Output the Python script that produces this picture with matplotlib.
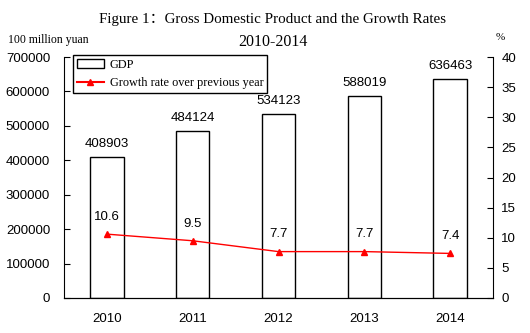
import matplotlib.pyplot as plt
from matplotlib.lines import Line2D
from matplotlib.patches import Patch

anos = ["2010", "2011", "2012", "2013", "2014"]
pib = [408903, 484124, 534123, 588019, 636463]
crescimento = [10.6, 9.5, 7.7, 7.7, 7.4]

plt.rcParams['font.family'] = ['Liberation Sans', 'DejaVu Sans']

fig = plt.figure(figsize=(5.3, 3.33), dpi=100)
ax = fig.add_axes([64 / 530, 1 - 298 / 333, (493 - 64) / 530, (298 - 57) / 333])
x = list(range(len(anos)))

# barras do PIB
ax.bar(x, pib, width=0.39, facecolor='white', edgecolor='black', linewidth=1.0)
for xi, v in zip(x, pib):
    ax.annotate(str(v), (xi, v), xytext=(0, 5), textcoords='offset points',
                ha='center', va='bottom', fontsize=9.5)

ax.set_xlim(-0.5, 4.5)
ax.set_ylim(0, 700000)
ax.set_yticks(range(0, 700001, 100000))
ax.set_xticks(x)
ax.set_xticklabels(anos)
ax.tick_params(axis='y', direction='in', length=4, labelsize=9.5, pad=10)
ax.tick_params(axis='x', length=0, labelsize=9.5, pad=11)
ax.spines['top'].set_visible(False)
ax.spines['right'].set_visible(False)

# linha da taxa de crescimento
ax2 = ax.twinx()
ax2.plot(x, crescimento, color='red', marker='^', markersize=5, linewidth=1.0)
for xi, v in zip(x, crescimento):
    ax2.annotate(f"{v}", (xi, v), xytext=(0, 8), textcoords='offset points',
                 ha='center', va='bottom', fontsize=9.5)
ax2.set_ylim(0, 40)
ax2.set_yticks(range(0, 41, 5))
ax2.tick_params(axis='y', direction='in', length=4, labelsize=9.5, pad=6)
ax2.spines['top'].set_visible(False)
ax2.spines['left'].set_visible(False)

handles = [Patch(facecolor='white', edgecolor='black', label='GDP'),
           Line2D([], [], color='red', marker='^', markersize=5, label='Growth rate over previous year')]
leg = ax.legend(handles=handles, loc='upper left', bbox_to_anchor=(0.021, 1.008),
                borderaxespad=0, prop={'family': 'Liberation Serif', 'size': 8.8},
                fancybox=False, edgecolor='black', framealpha=1, borderpad=0.3,
                labelspacing=0.55, handlelength=2.2, handletextpad=0.5)
leg.get_frame().set_linewidth(1.0)

fig.text(0.515, 1 - 20 / 333, "Figure 1：Gross Domestic Product and the Growth Rates",
         ha='center', va='center', fontsize=10.8, family=['Liberation Serif', 'Noto Sans CJK SC'])
fig.text(0.515, 1 - 42 / 333, "2010-2014", ha='center', va='center', fontsize=11.5,
         family='Liberation Serif')
fig.text(8 / 530, 1 - 40 / 333, "100 million yuan", ha='left', va='center', fontsize=8.5,
         family='Liberation Serif')
fig.text(500 / 530, 1 - 37 / 333, "%", ha='center', va='center', fontsize=8,
         family='Liberation Serif')

fig.savefig("out.png", dpi=100)
